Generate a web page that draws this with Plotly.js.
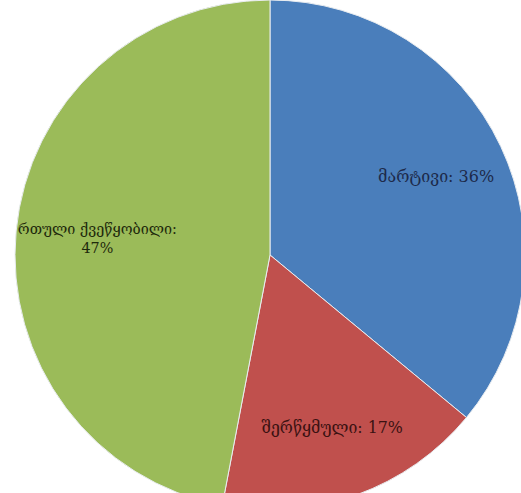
<!DOCTYPE html>
<html>
<head>
<meta charset="utf-8">
<script src="https://cdn.plot.ly/plotly-3.0.1.min.js"></script>
<style>
html, body { margin:0; padding:0; width:521px; height:493px; overflow:hidden; background:#fff; }
#chart { width:540px; height:510px; }
</style>
</head>
<body>
<div id="chart"></div>
<script>
const categories = ["მარტივი", "შერწყმული", "რთული ქვეწყობილი"];
const values = [36, 17, 47];
const labelTexts = ["მარტივი: 36%", "შერწყმული: 17%", "რთული ქვეწყობილი:<br>47%"];
const colors = ["#4A7EBB", "#C0504D", "#9BBB59"];
const textColors = ["#1d2a4a", "#3b1212", "#1f2a0c"];

const clear = ["rgba(0,0,0,0)", "rgba(0,0,0,0)", "rgba(0,0,0,0)"];
const base = {
  type: "pie",
  labels: categories,
  values: values,
  sort: false,
  direction: "clockwise",
  rotation: 0,
  domain: { x: [0, 1], y: [0, 1] }
};
function textLayer(hole, keep) {
  return Object.assign({}, base, {
    hole: hole,
    text: labelTexts.map((t, i) => keep.includes(i) ? t : ""),
    textinfo: "text",
    hoverinfo: "skip",
    textposition: "inside",
    insidetextorientation: "horizontal",
    marker: { colors: clear, line: { width: 0 } },
    insidetextfont: { family: "DejaVu Serif, DejaVu Sans, serif", size: 16, color: textColors }
  });
}

Plotly.newPlot("chart", [
  Object.assign({}, base, {
    textinfo: "none",
    hoverinfo: "label+percent",
    marker: { colors: colors, line: { color: "#e8ecf0", width: 1 } }
  }),
  textLayer(0.44, [0, 1]),
  textLayer(0.36, [2])
], {
  width: 540, height: 510,
  margin: { l: 0, r: 0, t: 0, b: 0 },
  showlegend: false,
  paper_bgcolor: "#ffffff"
}, { displayModeBar: false, staticPlot: true });
</script>
</body>
</html>
